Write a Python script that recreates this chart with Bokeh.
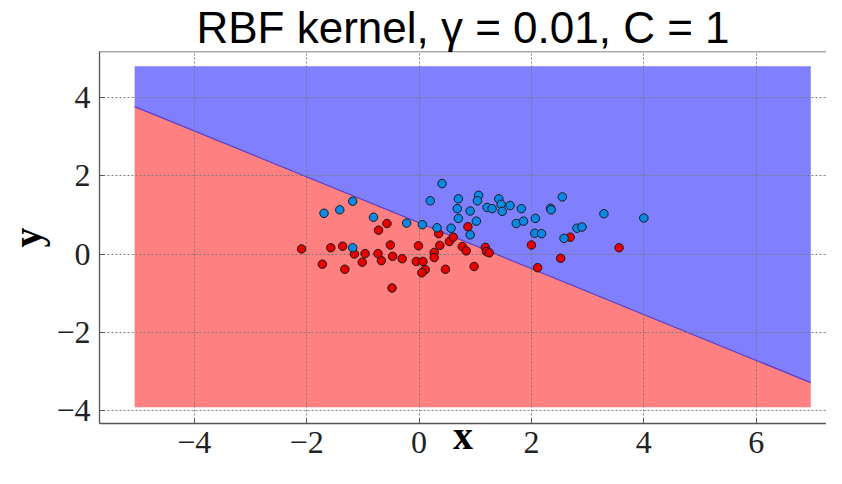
from bokeh.plotting import figure
from bokeh.models import Range1d, Span, FixedTicker
from bokeh.embed import file_html
from bokeh.resources import INLINE

# ---- data ----
title_text = "RBF kernel, γ = 0.01, C = 1"
x_label_text = "x"
y_label_text = "y"
x_ticks = [-4, -2, 0, 2, 4, 6]
x_tick_labels = ["−4", "−2", "0", "2", "4", "6"]
y_ticks = [-4, -2, 0, 2, 4]
y_tick_labels = ["−4", "−2", "0", "2", "4"]

blue_x = [0.41, 0.20, 0.70, 1.06, 1.04, 0.68, 0.91, 1.21, 1.30, 1.42, 0.70, 1.02,
          -1.18, -1.69, -1.41, -0.81, -0.22, 0.06, 0.32, 0.57, 0.91, -1.18,
          1.46, 1.48, 1.62, 1.82, 2.55, 2.34, 2.35, 1.73, 1.86, 2.07, 3.29, 4.00,
          2.06, 2.18, 2.81, 2.90, 2.58]
blue_y = [1.80, 1.36, 1.41, 1.50, 1.36, 1.16, 1.10, 1.19, 1.16, 1.41, 0.91, 0.84,
          1.35, 1.04, 1.13, 0.94, 0.79, 0.75, 0.67, 0.66, 0.49, 0.16,
          1.27, 1.09, 1.24, 1.16, 1.46, 1.17, 1.13, 0.78, 0.84, 0.91, 1.03, 0.92,
          0.53, 0.52, 0.66, 0.69, 0.40]

red_x = [-2.09, -1.72, -1.57, -1.36, -1.32, -1.15, -1.01, -0.96, -0.73, -0.67,
         -0.72, -0.57, -0.51, -0.47, -0.30, -0.48, -0.01, -0.05, 0.07, 0.11,
         0.05, 0.27, 0.27, 0.37, 0.47, 0.35, 0.54, 0.61, 0.77, 0.84,
         0.87, 0.98, 1.18, 1.20, 1.25, 2.69, 2.00, 3.56, 2.52, 2.11]
red_y = [0.13, -0.26, 0.16, 0.20, -0.39, 0.00, -0.21, 0.01, 0.01, -0.17,
         0.61, 0.78, 0.23, -0.06, -0.12, -0.87, 0.21, -0.19, -0.19, -0.40,
         -0.48, 0.04, -0.09, 0.22, -0.39, 0.52, 0.32, 0.43, 0.19, 0.08,
         0.70, -0.32, 0.17, 0.06, 0.03, 0.43, 0.23, 0.16, -0.11, -0.35]

# decision region extent and boundary (boundary y at the two x ends)
mesh_x = [-5.06, 6.97]
mesh_y = [-3.92, 4.80]
boundary_y = [3.77, -3.29]

x_limits = [-5.685, 7.25]
y_limits = [-4.335, 5.179]

# ---- figure ----
p = figure(width=826, height=468, output_backend="svg", toolbar_location=None,
           x_range=Range1d(*x_limits), y_range=Range1d(*y_limits),
           min_border_left=99, min_border_right=0, min_border_top=51,
           min_border_bottom=45, title=title_text)
p.background_fill_color = "white"
p.border_fill_color = "white"
p.outline_line_color = None

p.title.align = "center"
p.title.text_font = "Liberation Sans"
p.title.text_font_size = "44px"
p.title.text_font_style = "normal"
p.title.text_color = "black"
p.title.standoff = 0

# regions
x0, x1 = mesh_x
ylo, yhi = mesh_y
b0, b1 = boundary_y
p.patch([x0, x0, x1, x1], [ylo, b0, b1, ylo], fill_color="#ff8080",
        line_color=None, level="image")
p.patch([x0, x0, x1, x1], [b0, yhi, yhi, b1], fill_color="#8080ff",
        line_color=None, level="image")
p.line(mesh_x, boundary_y, line_color="#5a3cc8", line_width=1.2, level="image")

# points
p.scatter(red_x, red_y, size=8.5, fill_color="#e60000", line_color="#1a1a1a",
          line_width=1)
p.scatter(blue_x, blue_y, size=8.5, fill_color="#0a88e6", line_color="#1a1a1a",
          line_width=1)

# axes
for ax, ticks, labels in ((p.xaxis, x_ticks, x_tick_labels),
                          (p.yaxis, y_ticks, y_tick_labels)):
    ax.ticker = FixedTicker(ticks=ticks)
    ax.major_label_overrides = dict(zip(ticks, labels))
    ax.major_label_text_font = "Liberation Serif"
    ax.major_label_text_font_size = "32px"
    ax.major_label_text_color = "#222222"
    ax.major_tick_in = 5
    ax.major_tick_out = 0
    ax.minor_tick_line_color = None
    ax.axis_line_color = "#555555"
    ax.axis_line_width = 1.3
    ax.major_tick_line_color = "#555555"
    ax.axis_label_text_font = "Liberation Serif"
    ax.axis_label_text_font_style = "bold"
    ax.axis_label_text_font_size = "40px"
    ax.axis_label_text_color = "black"

p.xaxis.axis_label = x_label_text
p.yaxis.axis_label = y_label_text
p.xaxis.major_label_standoff = 8
p.yaxis.major_label_standoff = 9
p.xaxis.axis_label_standoff = -43
p.yaxis.axis_label_standoff = 3

for g, ticks in ((p.xgrid, x_ticks), (p.ygrid, y_ticks)):
    g.ticker = FixedTicker(ticks=ticks)
    g.grid_line_color = "#777777"
    g.grid_line_alpha = 0.9
    g.grid_line_dash = "2 2"
    g.grid_line_width = 1

p.add_layout(Span(location=y_limits[1], dimension="width",
                  line_color="#555555", line_width=1.3))

open("out.html", "w").write(file_html(p, INLINE))
